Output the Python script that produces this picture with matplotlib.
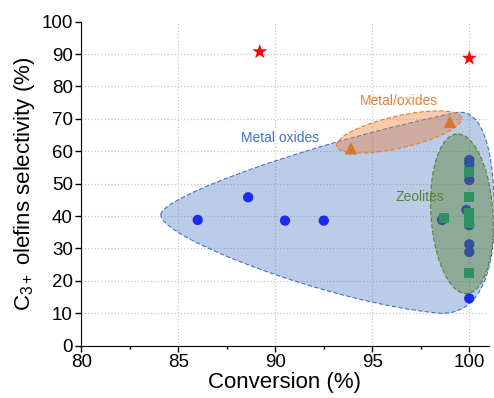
import matplotlib
matplotlib.use("Agg")
import matplotlib.pyplot as plt
import numpy as np
from matplotlib.path import Path
from matplotlib.patches import PathPatch, Polygon

plt.rcParams['font.family'] = ['Liberation Sans', 'DejaVu Sans']
plt.rcParams['mathtext.fontset'] = 'custom'
plt.rcParams['mathtext.rm'] = 'Liberation Sans'
plt.rcParams['mathtext.it'] = 'Liberation Sans'

# metal oxides (blue circles)
oxide_x = [86.0, 88.6, 90.5, 92.5, 98.6, 100, 100, 100, 99.85, 100, 100, 100, 100]
oxide_y = [38.8, 45.8, 38.6, 38.6, 38.8, 57.3, 56.1, 51.1, 41.9, 37.2, 31.3, 28.9, 14.6]

# zeolites (green squares)
zeo_x = [98.7, 100, 100, 100, 100, 100, 100]
zeo_y = [39.3, 53.5, 45.8, 40.9, 39.3, 37.8, 22.5]

# metal/oxides (orange triangles)
mo_x = [93.9, 99.0]
mo_y = [60.9, 69.1]

# stars
star_x = [89.2, 100]
star_y = [90.7, 88.7]

fig = plt.figure(figsize=(4.94, 3.98), dpi=100)
ax = fig.add_axes([0.1646, 0.1314, 0.8246, 0.8143])
ax.set_xlim(80, 101)
ax.set_ylim(0, 100)

# pixels per data unit, used to draw the ellipses in screen proportions
sx = 0.8246 * 494 / 21.0
sy = 0.8143 * 398 / 100.0


def ellipse(cx, cy, a, b, ang):
    t = np.linspace(0, 2 * np.pi, 200)
    th = np.deg2rad(ang)
    px = a * np.cos(t) * np.cos(th) - b * np.sin(t) * np.sin(th)
    py = a * np.cos(t) * np.sin(th) + b * np.sin(t) * np.cos(th)
    return np.column_stack([cx + px / sx, cy + py / sy])


# blue teardrop region
verts = [(84.1, 40.4),
         (84.1, 46.0), (92.0, 63.0), (99.4, 72.0),
         (100.7, 73.0), (101.3, 60.0), (101.3, 40.0),
         (101.3, 20.0), (100.3, 9.5), (98.5, 10.0),
         (93.0, 13.0), (84.1, 33.0), (84.1, 40.4)]
codes = [Path.MOVETO] + [Path.CURVE4] * 12
ax.add_patch(PathPatch(Path(verts, codes), facecolor='#4472c4', alpha=0.36,
                       edgecolor='none', zorder=1, clip_on=False))
ax.add_patch(PathPatch(Path(verts, codes), facecolor='none', edgecolor='#4472c4',
                       lw=0.8, ls=(0, (4, 2)), zorder=1.1, clip_on=False))

ax.scatter(oxide_x, oxide_y, s=55, color='#1a2cf0', zorder=3, edgecolors='none')

# green ellipse
green = ellipse(99.62, 40.7, 80, 31, 93.6)
ax.add_patch(Polygon(green, closed=True, facecolor='#548235', alpha=0.45,
                     edgecolor='none', zorder=4, clip_on=False))
ax.add_patch(Polygon(green, closed=True, facecolor='none', edgecolor='#548235',
                     lw=0.8, ls=(0, (4, 2)), zorder=4.1, clip_on=False))

ax.scatter(zeo_x, zeo_y, s=55, marker='s', color='#2e9161', zorder=5, edgecolors='none')

# orange ellipse
orange = ellipse(96.38, 65.95, 64, 16, 12.8)
ax.add_patch(Polygon(orange, closed=True, facecolor='#ed7d31', alpha=0.4,
                     edgecolor='none', zorder=6))
ax.add_patch(Polygon(orange, closed=True, facecolor='none', edgecolor='#ed7d31',
                     lw=0.8, ls=(0, (4, 2)), zorder=6.1))

ax.scatter(mo_x, mo_y, s=80, marker='^', color='#d9782d', zorder=7, edgecolors='none')
ax.scatter(star_x, star_y, s=130, marker='*', color='#ff0000', zorder=8, edgecolors='none')

ax.text(90.25, 64, 'Metal oxides', color='#4472c4', fontsize=10, ha='center', va='center', zorder=9)
ax.text(96.4, 75.6, 'Metal/oxides', color='#ed7d31', fontsize=10, ha='center', va='center', zorder=9)
ax.text(97.46, 46, 'Zeolites', color='#548235', fontsize=10, ha='center', va='center', zorder=9)

ax.set_xticks([80, 85, 90, 95, 100])
ax.set_xticks([82.5, 87.5, 92.5, 97.5], minor=True)
ax.set_yticks(range(0, 101, 10))
ax.grid(True, which='major', color='#c8c8c8', ls=':', lw=0.9)
ax.yaxis.get_gridlines()[-1].set_visible(False)
ax.set_axisbelow(True)
for s in ['top', 'right']:
    ax.spines[s].set_visible(False)
ax.tick_params(direction='out', length=4, width=1, labelsize=13.5, pad=2)
ax.tick_params(which='minor', direction='out', length=2.5, width=1)
ax.set_xlabel('Conversion (%)', fontsize=16, labelpad=1)
ax.set_ylabel('C$_{3+}$ olefins selectivity (%)', fontsize=16, labelpad=3)

fig.savefig('out.png', dpi=100)
